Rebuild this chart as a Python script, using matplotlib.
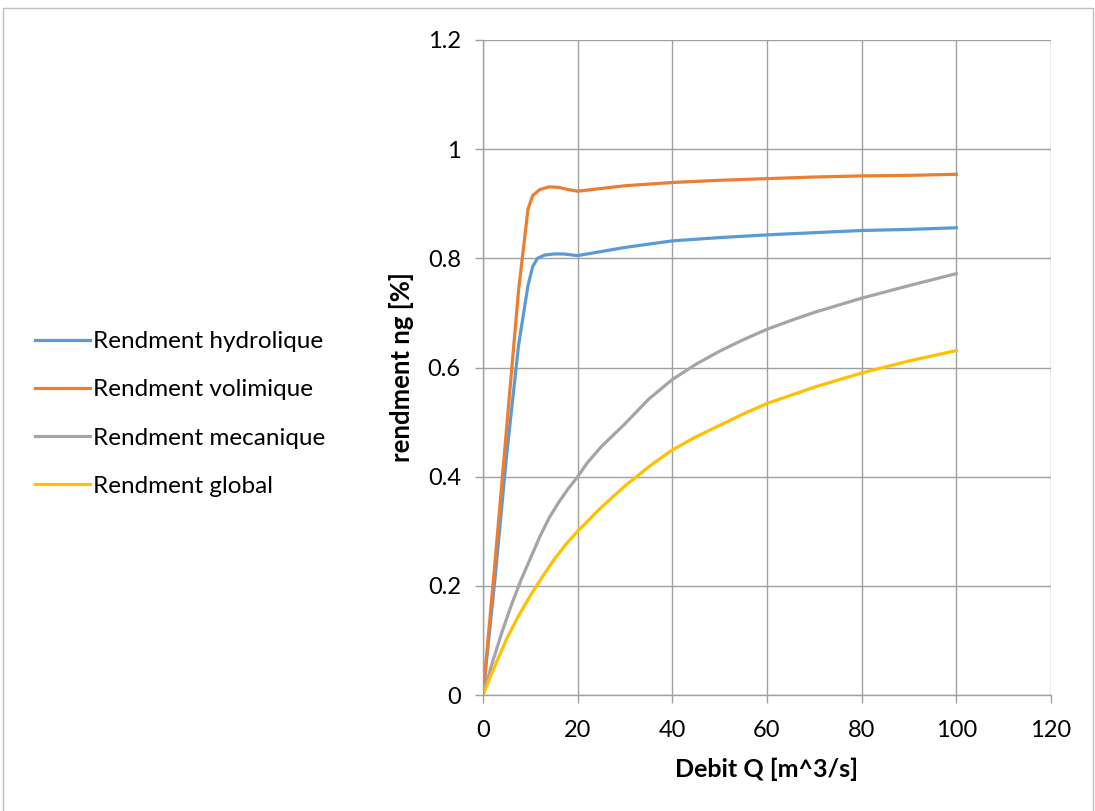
import matplotlib
matplotlib.use("Agg")
from matplotlib import pyplot as plt
from matplotlib.patches import Rectangle

plt.rcParams['font.family'] = ['Lato', 'DejaVu Sans']

# values
q_hyd = [0, 2.5, 5, 7.5, 9.5, 10.5, 11.5, 13, 15, 17, 20, 30, 40, 50, 60, 70, 80, 90, 100]
hyd = [0, 0.21, 0.44, 0.64, 0.75, 0.785, 0.800, 0.806, 0.808, 0.808, 0.805,
       0.820, 0.832, 0.838, 0.843, 0.847, 0.851, 0.853, 0.856]

q_vol = [0, 2.5, 5, 7.5, 9.5, 10.5, 12, 14, 16, 18, 20, 30, 40, 50, 60, 70, 80, 90, 100]
vol = [0, 0.24, 0.49, 0.74, 0.89, 0.915, 0.926, 0.931, 0.930, 0.926, 0.923,
       0.933, 0.939, 0.943, 0.946, 0.949, 0.951, 0.952, 0.954]

q_mec = [0, 2, 4, 6, 8, 10, 12, 14, 16, 18, 20, 22, 25, 30, 35, 40, 45, 50, 55, 60,
         65, 70, 75, 80, 90, 100]
mec = [0, 0.06, 0.115, 0.165, 0.21, 0.25, 0.29, 0.325, 0.353, 0.378, 0.40, 0.425,
       0.455, 0.497, 0.542, 0.578, 0.606, 0.630, 0.651, 0.670, 0.686, 0.701,
       0.714, 0.727, 0.750, 0.772]

q_glob = [0, 2.5, 5, 7.5, 10, 12.5, 15, 17.5, 20, 25, 30, 35, 40, 45, 50, 55, 60,
          70, 80, 90, 100]
glob = [0, 0.053, 0.103, 0.145, 0.182, 0.216, 0.248, 0.276, 0.30, 0.344, 0.383,
        0.418, 0.449, 0.473, 0.494, 0.515, 0.534, 0.564, 0.590, 0.612, 0.631]

x_ticks = [0, 20, 40, 60, 80, 100, 120]
y_ticks = [0, 0.2, 0.4, 0.6, 0.8, 1.0, 1.2]
y_labels = ['0', '0.2', '0.4', '0.6', '0.8', '1', '1.2']

fig = plt.figure(figsize=(10.95, 8.11), dpi=100)
ax = fig.add_axes([483 / 1095, 1 - 695 / 811, (1051 - 483) / 1095, (695 - 40) / 811])

lw = 2.3
ax.plot(q_hyd, hyd, color='#5B9BD5', lw=lw, label='Rendment hydrolique', solid_joinstyle='round')
ax.plot(q_vol, vol, color='#ED7D31', lw=lw, label='Rendment volimique', solid_joinstyle='round')
ax.plot(q_mec, mec, color='#A5A5A5', lw=lw, label='Rendment mecanique', solid_joinstyle='round')
ax.plot(q_glob, glob, color='#FFC000', lw=lw, label='Rendment global', solid_joinstyle='round')

ax.set_xlim(0, 120)
ax.set_ylim(0, 1.2)
ax.set_xticks(x_ticks)
ax.set_yticks(y_ticks)
ax.set_yticklabels(y_labels)
ax.grid(True, color='#a0a0a0', lw=1.0)
ax.set_axisbelow(True)
for s in ['top', 'right']:
    ax.spines[s].set_visible(False)
for s in ['left', 'bottom']:
    ax.spines[s].set_color('#a0a0a0')
    ax.spines[s].set_linewidth(1.0)
ax.tick_params(axis='both', colors='#a0a0a0', labelcolor='black', labelsize=17,
               length=6, width=1.0, direction='out')
ax.tick_params(axis='x', pad=12)
ax.tick_params(axis='y', pad=10)

ax.set_xlabel('Debit Q [m^3/s]', fontsize=18, fontweight='bold', labelpad=12)
ax.set_ylabel('rendment ng [%]', fontsize=18.5, fontweight='bold', labelpad=10)

fig.legend(loc='center left', bbox_to_anchor=(25 / 1095, 1 - 414 / 811), frameon=False,
           borderaxespad=0, fontsize=17.5, handlelength=2.26, handletextpad=0.12,
           labelspacing=1.12)

fig.patches.append(Rectangle((3 / 1095, -0.01), 1090 / 1095, 1 - 8 / 811 + 0.01,
                             transform=fig.transFigure, fill=False, edgecolor='#c0c0c0', lw=1.0))

fig.savefig('out.png', dpi=100)
